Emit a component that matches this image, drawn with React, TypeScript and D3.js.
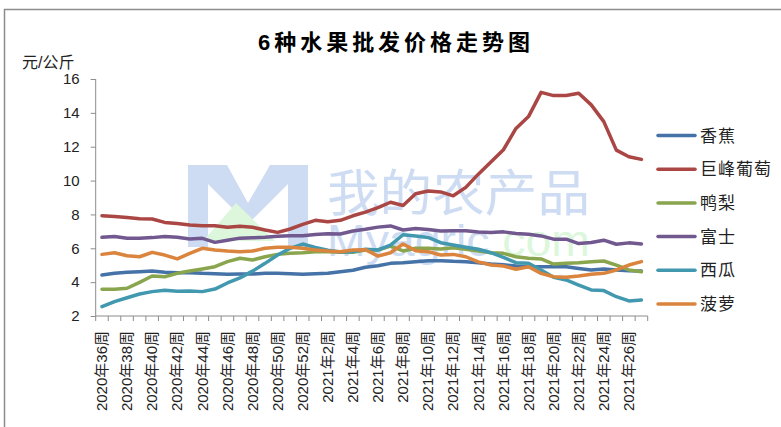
import React, { useEffect, useRef } from 'react';
import * as d3 from 'd3';

const categories = [
  '2020年36周', '2020年37周', '2020年38周', '2020年39周', '2020年40周', '2020年41周',
  '2020年42周', '2020年43周', '2020年44周', '2020年45周', '2020年46周', '2020年47周',
  '2020年48周', '2020年49周', '2020年50周', '2020年51周', '2020年52周',
  '2021年1周', '2021年2周', '2021年3周', '2021年4周', '2021年5周', '2021年6周',
  '2021年7周', '2021年8周', '2021年9周', '2021年10周', '2021年11周', '2021年12周',
  '2021年13周', '2021年14周', '2021年15周', '2021年16周', '2021年17周', '2021年18周',
  '2021年19周', '2021年20周', '2021年21周', '2021年22周', '2021年23周', '2021年24周',
  '2021年25周', '2021年26周', '2021年27周'
];

const banana = [
  4.42, 4.52, 4.58, 4.62, 4.66, 4.58, 4.56, 4.56, 4.52, 4.5, 4.46,
  4.48, 4.48, 4.52, 4.52, 4.5, 4.46, 4.5, 4.52, 4.62, 4.7, 4.88,
  4.97, 5.11, 5.15, 5.21, 5.27, 5.27, 5.23, 5.21, 5.15, 5.07, 5.03,
  4.95, 4.91, 4.91, 4.91, 4.91, 4.81, 4.72, 4.78, 4.72, 4.68, 4.66
];
const grape = [
  7.92, 7.88, 7.82, 7.75, 7.73, 7.53, 7.47, 7.37, 7.33, 7.33, 7.24,
  7.3, 7.24, 7.08, 6.94, 7.14, 7.41, 7.65, 7.57, 7.65, 7.92, 8.14,
  8.4, 8.72, 8.53, 9.22, 9.38, 9.33, 9.1, 9.6, 10.38, 11.1, 11.82,
  13.08, 13.78, 15.21, 15.02, 15.02, 15.16, 14.47, 13.48, 11.8, 11.41, 11.25
];
const pear = [
  3.58, 3.58, 3.64, 3.99, 4.36, 4.32, 4.52, 4.66, 4.78, 4.91, 5.21,
  5.41, 5.31, 5.5, 5.64, 5.7, 5.74, 5.8, 5.8, 5.76, 5.76, 5.9,
  5.9, 6.13, 5.84, 6.0, 6.0, 5.96, 6.03, 5.94, 5.84, 5.74, 5.7,
  5.5, 5.41, 5.37, 5.07, 5.11, 5.15, 5.21, 5.25, 5.01, 4.72, 4.62
];
const fuji = [
  6.65, 6.69, 6.59, 6.59, 6.63, 6.69, 6.65, 6.55, 6.59, 6.35, 6.47,
  6.6, 6.62, 6.65, 6.71, 6.74, 6.74, 6.82, 6.86, 6.84, 7.02, 7.12,
  7.25, 7.32, 7.08, 7.17, 7.11, 7.02, 7.04, 7.03, 6.96, 6.93, 6.97,
  6.87, 6.83, 6.73, 6.54, 6.54, 6.28, 6.34, 6.48, 6.24, 6.32, 6.26
];
const watermelon = [
  2.55, 2.85, 3.08, 3.3, 3.44, 3.52, 3.46, 3.48, 3.44, 3.59, 3.95,
  4.25, 4.65, 5.11, 5.6, 6.0, 6.25, 6.05, 5.88, 5.78, 5.8, 5.95,
  5.9, 6.19, 6.8, 6.72, 6.64, 6.33, 6.19, 6.06, 5.94, 5.74, 5.46,
  5.15, 5.11, 4.72, 4.29, 4.13, 3.83, 3.54, 3.5, 3.14, 2.89, 2.95
];
const pineapple = [
  5.64, 5.74, 5.56, 5.5, 5.76, 5.6, 5.37, 5.7, 6.0, 5.9, 5.84,
  5.8, 5.84, 6.0, 6.06, 6.06, 6.0, 5.9, 5.84, 5.8, 5.9, 5.92,
  5.54, 5.74, 6.25, 5.86, 5.8, 5.6, 5.64, 5.5, 5.2, 5.01, 4.95,
  4.76, 4.91, 4.52, 4.32, 4.29, 4.36, 4.46, 4.52, 4.72, 5.01, 5.21
];

const seriesNames = ['香蕉', '巨峰葡萄', '鸭梨', '富士', '西瓜', '菠萝'];
const seriesValues = [banana, grape, pear, fuji, watermelon, pineapple];
const seriesColors = ['#4572A7', '#AA4643', '#89A54E', '#71588F', '#4198AF', '#DB843D'];
const yTicks = [2, 4, 6, 8, 10, 12, 14, 16];

const title = '6种水果批发价格走势图';
const unitLabel = '元/公斤';

const FONT = '"Liberation Sans", "Noto Sans CJK SC", sans-serif';

const App = () => {
  const svgRef = useRef<SVGSVGElement>(null);

  const width = 781;
  const height = 427;
  const plot = { left: 95.7, right: 647.7, top: 79, bottom: 316 };

  useEffect(() => {
    document.body.style.margin = '0';

    const svg = d3.select(svgRef.current);
    svg.selectAll('*').remove();

    const xScale = d3.scaleBand<string>()
      .domain(categories)
      .range([plot.left, plot.right])
      .paddingInner(0)
      .paddingOuter(0);

    const yScale = d3.scaleLinear()
      .domain([2, 16])
      .range([plot.bottom, plot.top]);

    const xCenter = (c: string) => (xScale(c) as number) + xScale.bandwidth() / 2;

    // outer frame (chart is cropped on right/bottom)
    svg.append('path')
      .attr('d', `M4.5,${height + 5} V9.5 H${width + 5}`)
      .attr('fill', 'none')
      .attr('stroke', '#8c8c8c')
      .attr('stroke-width', 1.5);

    // title
    svg.append('text')
      .attr('x', 258)
      .attr('y', 50)
      .attr('textLength', 272)
      .attr('lengthAdjust', 'spacing')
      .attr('font-family', FONT)
      .attr('font-size', 22)
      .attr('font-weight', 'bold')
      .attr('fill', '#000')
      .text(title);

    svg.append('text')
      .attr('x', 22)
      .attr('y', 68)
      .attr('font-family', FONT)
      .attr('font-size', 16)
      .attr('fill', '#222')
      .text(unitLabel);

    // watermark
    const wm = svg.append('g').attr('class', 'watermark');
    wm.append('path')
      .attr('d', 'M188,247 V165 H227 L248,203 L270,165 H308 V247 H288 V184 L248,224 L208,184 V247 Z')
      .attr('fill', '#cddcf3');
    wm.append('path')
      .attr('d', 'M236,203 L203,241 L275,241 Z')
      .attr('fill', '#dcf7dc');
    wm.append('text')
      .attr('x', 327)
      .attr('y', 211)
      .attr('textLength', 263)
      .attr('lengthAdjust', 'spacingAndGlyphs')
      .attr('font-family', FONT)
      .attr('font-size', 50)
      .attr('fill', '#cddcf3')
      .text('我的农产品');
    const wmText = wm.append('text')
      .attr('x', 327)
      .attr('y', 256)
      .attr('textLength', 263)
      .attr('lengthAdjust', 'spacingAndGlyphs')
      .attr('font-family', FONT)
      .attr('font-size', 44);
    wmText.append('tspan').attr('fill', '#cddcf3').text('Myagric');
    wmText.append('tspan').attr('fill', '#dcf7dc').text('.com');

    // y axis
    const yAxis = svg.append('g')
      .attr('transform', `translate(${plot.left},0)`)
      .call(d3.axisLeft(yScale).tickValues(yTicks).tickSize(5).tickPadding(11).tickFormat(d3.format('d')));
    yAxis.select('.domain').attr('stroke', '#8c8c8c').attr('d', `M0,${plot.top}V${plot.bottom}`);
    yAxis.selectAll('.tick line').attr('stroke', '#8c8c8c');
    yAxis.selectAll('.tick text')
      .attr('font-family', FONT)
      .attr('font-size', 15)
      .attr('fill', '#222');

    // x axis
    const xAxis = svg.append('g');
    xAxis.append('line')
      .attr('x1', plot.left).attr('x2', plot.right)
      .attr('y1', plot.bottom).attr('y2', plot.bottom)
      .attr('stroke', '#8c8c8c');
    const boundaries = [...categories.map(c => xScale(c) as number), plot.right];
    xAxis.selectAll('.xtick')
      .data(boundaries)
      .join('line')
      .attr('class', 'xtick')
      .attr('x1', d => d).attr('x2', d => d)
      .attr('y1', plot.bottom).attr('y2', plot.bottom + 5)
      .attr('stroke', '#8c8c8c');
    xAxis.selectAll('.xlabel')
      .data(categories.filter((_, i) => i % 2 === 0))
      .join('text')
      .attr('class', 'xlabel')
      .attr('transform', d => `translate(${xCenter(d)},${plot.bottom + 15}) rotate(-90)`)
      .attr('text-anchor', 'end')
      .attr('dy', '0.35em')
      .attr('font-family', FONT)
      .attr('font-size', 15)
      .attr('fill', '#222')
      .text(d => d);

    // lines
    const lineGenerator = d3.line<number>()
      .x((_, i) => xCenter(categories[i]))
      .y(d => yScale(d));

    svg.append('g')
      .selectAll('path')
      .data(seriesValues)
      .join('path')
      .attr('d', d => lineGenerator(d))
      .attr('fill', 'none')
      .attr('stroke', (_, i) => seriesColors[i])
      .attr('stroke-width', 3.5)
      .attr('stroke-linejoin', 'round')
      .attr('stroke-linecap', 'round');

    // legend
    const legend = svg.append('g')
      .selectAll('g')
      .data(seriesNames)
      .join('g')
      .attr('transform', (_, i) => `translate(658,${135.5 + i * 33.7})`);
    legend.append('line')
      .attr('x1', 0).attr('x2', 37)
      .attr('stroke', (_, i) => seriesColors[i])
      .attr('stroke-width', 3.5)
      .attr('stroke-linecap', 'round');
    legend.append('text')
      .attr('x', 42)
      .attr('dy', '0.36em')
      .attr('font-family', FONT)
      .attr('font-size', 17)
      .attr('letter-spacing', 1)
      .attr('fill', '#222')
      .text(d => d);
  }, []);

  return (
    <svg ref={svgRef} width={width} height={height} style={{ display: 'block', background: '#fff' }} />
  );
};

export default App;
